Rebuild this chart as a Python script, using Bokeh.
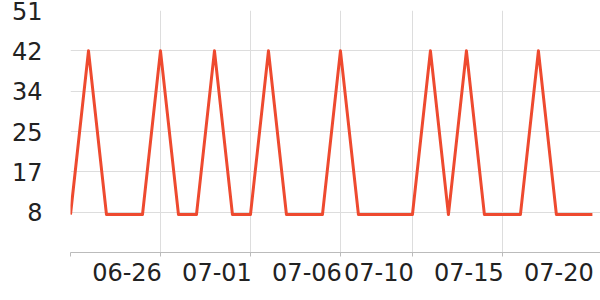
from bokeh.plotting import figure
from bokeh.models import Range1d, FixedTicker, ColumnDataSource, LinearAxis, Grid
from bokeh.embed import file_html
from bokeh.resources import INLINE

# Data (daily points)
dates = ["06-21", "06-22", "06-23", "06-24", "06-25", "06-26", "06-27", "06-28", "06-29", "06-30",
         "07-01", "07-02", "07-03", "07-04", "07-05", "07-06", "07-07", "07-08", "07-09", "07-10",
         "07-11", "07-12", "07-13", "07-14", "07-15", "07-16", "07-17", "07-18", "07-19", "07-20"]
values = [8, 42.5, 8, 8, 8, 42.5, 8, 8, 42.5, 8,
          8, 42.5, 8, 8, 8, 42.5, 8, 8, 8, 8,
          42.5, 8, 42.5, 8, 8, 8, 42.5, 8, 8, 8]

x_label_dates = ["06-26", "07-01", "07-06", "07-10", "07-15", "07-20"]
y_ticks = [8.5, 17, 25.5, 34, 42.5, 51]
y_labels = ["8", "17", "25", "34", "42", "51"]

xs = list(range(len(dates)))
src = ColumnDataSource(dict(x=xs, y=values))

x_end = len(dates) - 1 + 0.45
label_shift = 1.86  # labels end at their tick (half label width, in days)

p = figure(width=600, height=300, output_backend="svg", toolbar_location=None,
           x_range=Range1d(0, x_end), y_range=Range1d(0, 51), x_axis_location=None,
           min_border_left=70, min_border_right=0, min_border_top=10, min_border_bottom=48)
p.outline_line_color = None
p.background_fill_color = "white"
p.border_fill_color = "white"

p.line("x", "y", source=src, line_color="#ee4a2f", line_width=3, line_join="round")

label_idx = [dates.index(d) for d in x_label_dates]
grid_idx = [0] + label_idx[:-1]

# x axis on a shifted range so that labels end at their tick; tick marks as minor ticks
p.extra_x_ranges = {"lbl": Range1d(label_shift, x_end + label_shift)}
lax = LinearAxis(x_range_name="lbl",
                 ticker=FixedTicker(ticks=label_idx, minor_ticks=[i + label_shift for i in grid_idx]),
                 major_label_overrides={i: dates[i] for i in label_idx})
lax.axis_line_color = "#bbbbbb"
lax.major_tick_line_color = None
lax.minor_tick_line_color = "#bbbbbb"
lax.minor_tick_out = 4
lax.minor_tick_in = 0
lax.major_tick_out = 4
lax.major_tick_in = 0
lax.major_label_standoff = 6
p.add_layout(lax, "below")

for g in p.xgrid:
    g.visible = False
p.add_layout(Grid(dimension=0, ticker=FixedTicker(ticks=grid_idx),
                  grid_line_color="#dddddd", grid_line_width=1))

p.yaxis.ticker = FixedTicker(ticks=y_ticks)
p.yaxis.major_label_overrides = {t: l for t, l in zip(y_ticks, y_labels)}
p.ygrid.ticker = FixedTicker(ticks=y_ticks)
p.ygrid.grid_line_color = "#dddddd"
p.ygrid.grid_line_width = 1

p.yaxis.axis_line_color = None
p.yaxis.major_tick_line_color = None
p.yaxis.minor_tick_line_color = None
p.yaxis.major_label_standoff = 22

for ax in (lax, p.yaxis[0]):
    ax.major_label_text_font = "DejaVu Sans"
    ax.major_label_text_font_size = "24px"
    ax.major_label_text_color = "#222222"

open("out.html", "w").write(file_html(p, INLINE))
